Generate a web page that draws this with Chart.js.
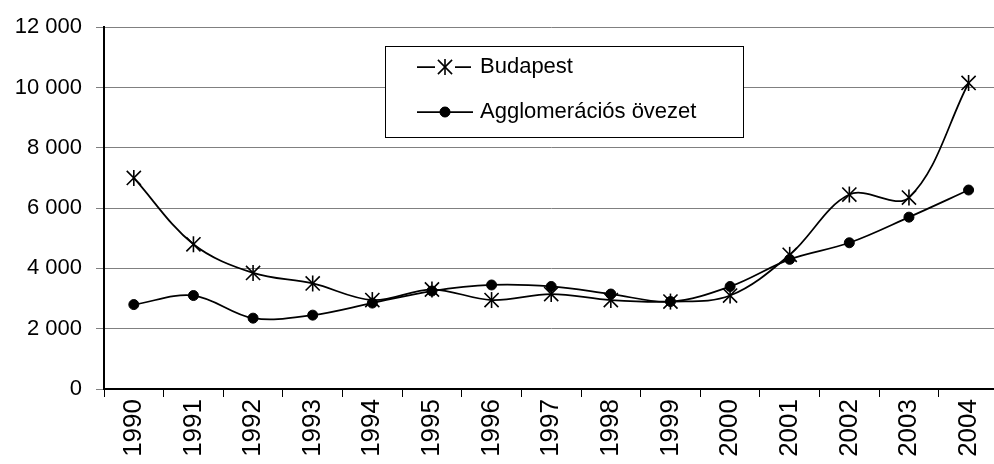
<!DOCTYPE html>
<html>
<head>
<meta charset="utf-8">
<script src="https://cdn.jsdelivr.net/npm/chart.js@4"></script>
<style>
  html, body { margin: 0; padding: 0; background: #fff; overflow: hidden; }
  #wrap { width: 1010px; height: 464px; }
</style>
</head>
<body>
<div id="wrap"><canvas id="chart" width="1010" height="464"></canvas></div>
<script>
// adatok
const years = ["1990","1991","1992","1993","1994","1995","1996","1997","1998","1999","2000","2001","2002","2003","2004"];
const budapest = [7000, 4800, 3850, 3500, 2950, 3300, 2950, 3150, 2950, 2900, 3100, 4450, 6450, 6350, 10150];
const agglo = [2800, 3100, 2350, 2450, 2850, 3250, 3450, 3400, 3150, 2900, 3400, 4300, 4850, 5700, 6600];
const seriesNames = ["Budapest", "Agglomerációs övezet"];
const yTicks = [0, 2000, 4000, 6000, 8000, 10000, 12000];

const FONT = "'Liberation Sans', Arial, sans-serif";

function fmt(v) {
    return String(v).replace(/\B(?=(\d{3})+(?!\d))/g, " ");
}

// Excel csillag: az X mellé egy függőleges szár is kell
function starBar(ctx, x, y) {
    ctx.beginPath();
    ctx.moveTo(x, y - 8);
    ctx.lineTo(x, y + 8);
    ctx.stroke();
}

const starBars = {
    id: "starBars",
    afterDatasetsDraw(chart) {
        const ctx = chart.ctx;
        ctx.save();
        ctx.strokeStyle = "#000";
        ctx.lineWidth = 1.6;
        chart.getDatasetMeta(0).data.forEach(p => starBar(ctx, p.x, p.y));
        ctx.restore();
    }
};

// jelmagyarázat doboz a rajzterületen belül
const boxLegend = {
    id: "boxLegend",
    afterDraw(chart) {
        const ctx = chart.ctx;
        const x = 385, y = 46, w = 358, h = 91;
        ctx.save();
        ctx.fillStyle = "#fff";
        ctx.fillRect(x, y, w, h);
        ctx.strokeStyle = "#000";
        ctx.lineWidth = 1;
        ctx.strokeRect(x + 0.5, y + 0.5, w, h);
        const rows = [67, 112];
        chart.data.datasets.forEach((ds, i) => {
            const ry = rows[i];
            ctx.strokeStyle = "#000";
            ctx.lineWidth = 1.75;
            ctx.beginPath();
            if (i === 0) {
                ctx.moveTo(417, ry); ctx.lineTo(435, ry);
                ctx.moveTo(455, ry); ctx.lineTo(471, ry);
            } else {
                ctx.moveTo(417, ry); ctx.lineTo(473, ry);
            }
            ctx.stroke();
            ctx.lineWidth = ds.pointBorderWidth;
            Chart.helpers.drawPoint(ctx, {
                pointStyle: ds.pointStyle,
                radius: ds.pointRadius,
                borderWidth: ds.pointBorderWidth
            }, 445, ry);
            if (i === 0) {
                starBar(ctx, 445, ry);
            } else {
                ctx.fillStyle = "#000";
                ctx.fill();
            }
            ctx.fillStyle = "#000";
            ctx.font = "22px " + FONT;
            ctx.textBaseline = "middle";
            ctx.textAlign = "left";
            ctx.fillText(ds.label, 480, ry);
        });
        ctx.restore();
    }
};

new Chart(document.getElementById("chart"), {
    type: "line",
    data: {
        labels: years,
        datasets: [{
            label: seriesNames[0],
            data: budapest,
            borderColor: "#000",
            borderWidth: 1.75,
            tension: 0.35,
            pointStyle: "crossRot",
            pointRadius: 10,
            pointBorderWidth: 1.6,
            pointBorderColor: "#000",
            pointHoverRadius: 10
        }, {
            label: seriesNames[1],
            data: agglo,
            borderColor: "#000",
            backgroundColor: "#000",
            borderWidth: 1.75,
            tension: 0.35,
            pointStyle: "circle",
            pointRadius: 5,
            pointBorderWidth: 1,
            pointBackgroundColor: "#000",
            pointBorderColor: "#000",
            pointHoverRadius: 5
        }]
    },
    options: {
        responsive: false,
        animation: false,
        devicePixelRatio: 1,
        layout: { padding: { top: 22, right: 6, left: 0, bottom: 0 } },
        plugins: {
            legend: { display: false },
            tooltip: { enabled: false }
        },
        scales: {
            x: {
                offset: true,
                afterFit: s => { s.height = 75; },
                grid: {
                    offset: true,
                    drawOnChartArea: false,
                    tickLength: 8,
                    color: "#000"
                },
                border: { color: "#000", width: 2 },
                ticks: {
                    color: "#000",
                    font: { family: FONT, size: 26 },
                    minRotation: 90,
                    maxRotation: 90,
                    padding: 2,
                    autoSkip: false
                }
            },
            y: {
                min: 0,
                max: 12000,
                afterFit: s => { s.width = 104; },
                afterBuildTicks: s => { s.ticks = yTicks.map(v => ({ value: v })); },
                grid: {
                    color: "#808080",
                    lineWidth: 1,
                    tickLength: 8,
                    tickColor: "#808080"
                },
                border: { color: "#000", width: 2 },
                ticks: {
                    color: "#000",
                    font: { family: FONT, size: 22 },
                    padding: 14,
                    callback: v => fmt(v)
                }
            }
        }
    },
    plugins: [starBars, boxLegend]
});
</script>
</body>
</html>
